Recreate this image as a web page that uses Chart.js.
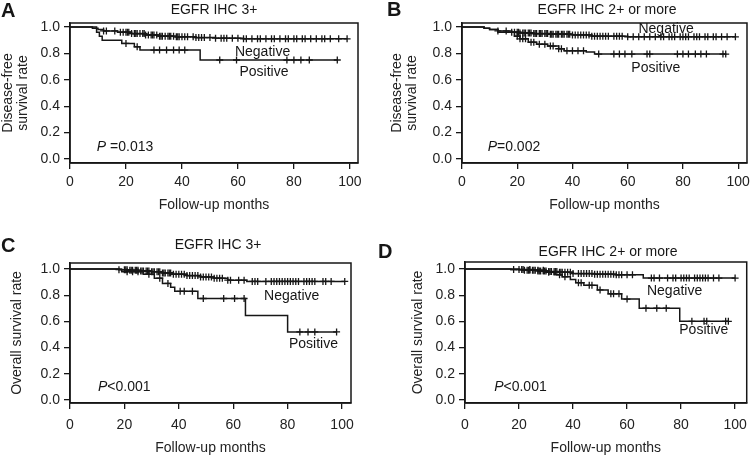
<!DOCTYPE html>
<html>
<head>
<meta charset="utf-8">
<title>EGFR IHC survival curves</title>
<script src="https://cdn.jsdelivr.net/npm/chart.js@4.4.0/dist/chart.umd.min.js"></script>
<style>
  html, body { margin: 0; padding: 0; background: #fff; }
  #wrap { position: relative; width: 755px; height: 460px; overflow: hidden; background: #fff; }
  #wrap canvas { position: absolute; }
</style>
</head>
<body>
<div id="wrap">
  <canvas id="panel-a" width="377" height="230" style="left:0;top:0"></canvas>
  <canvas id="panel-b" width="378" height="230" style="left:377px;top:0"></canvas>
  <canvas id="panel-c" width="377" height="230" style="left:0;top:230px"></canvas>
  <canvas id="panel-d" width="378" height="230" style="left:377px;top:230px"></canvas>
</div>
<script>
// axis ticks
const xTicks = [0, 20, 40, 60, 80, 100];
const yTicks = [0, 0.2, 0.4, 0.6, 0.8, 1.0];
const yTickLabels = ['0.0', '0.2', '0.4', '0.6', '0.8', '1.0'];

// A: disease-free survival, EGFR IHC 3+
const aNegTimes = [0, 8, 10, 12, 17, 22, 27, 32, 38, 45, 52, 62];
const aNegSurv = [1, 0.99, 0.98, 0.97, 0.96, 0.95, 0.94, 0.93, 0.925, 0.92, 0.915, 0.91];
const aNegCensor = [12, 13, 16, 18, 19, 20, 20.5, 21, 22, 23, 23.5, 24, 25, 26, 26.5, 27, 28, 29, 29.5, 30, 31, 32, 32.5, 33, 34, 35, 35.5, 36, 37, 38, 38.5, 39, 40, 41, 42, 44, 45, 46, 47, 48, 50, 52, 54, 55, 56, 58, 60, 62, 63, 65, 67, 68, 70, 72, 73, 75, 77, 78, 80, 81, 83, 84, 86, 88, 90, 91, 93, 96, 99];
const aPosTimes = [0, 9.5, 10.5, 11.5, 18.5, 23, 25, 46.5];
const aPosSurv = [1, 0.96, 0.93, 0.90, 0.875, 0.85, 0.825, 0.75];
const aPosCensor = [20, 24, 30, 32, 34.5, 37, 39, 41, 53.5, 59.5, 77.5, 80, 82.5, 85.5, 95.5];

// B: disease-free survival, EGFR IHC 2+ or more
const bNegTimes = [0, 8, 10, 13, 18, 21, 26, 32, 40, 47, 60];
const bNegSurv = [1, 0.99, 0.98, 0.97, 0.96, 0.955, 0.95, 0.945, 0.94, 0.93, 0.925];
const bNegCensor = [13, 16, 18, 19, 20, 20.5, 21, 22, 22.5, 23, 24, 24.5, 25, 26, 26.5, 27, 28, 28.5, 29, 30, 30.5, 31, 32, 32.5, 33, 34, 34.5, 35, 36, 36.5, 37, 38, 38.5, 39, 40, 41, 42, 43, 44, 45, 46, 47, 48, 49, 50, 51, 52, 53, 55, 56, 57, 58, 60, 62, 64, 66, 68, 70, 72, 73, 75, 76, 77, 79, 80, 81, 82, 84, 85, 86, 88, 89, 91, 92, 94, 96, 99];
const bPosTimes = [0, 8, 10, 13, 19, 21, 24, 27, 31, 35, 37, 45, 48];
const bPosSurv = [1, 0.99, 0.98, 0.96, 0.93, 0.91, 0.885, 0.87, 0.855, 0.835, 0.82, 0.81, 0.795];
const bPosCensor = [20, 21, 22, 23, 25, 26, 28, 30, 32, 33, 35, 36, 38, 40, 42, 44, 49.5, 55, 57, 59, 61.5, 67, 68, 78, 80, 82, 84.5, 86.5, 88.5, 94.5, 95.5];

// C: overall survival, EGFR IHC 3+
const cNegTimes = [0, 18, 22, 26, 30, 34, 38, 43, 48, 53, 58, 65];
const cNegSurv = [1, 0.995, 0.99, 0.985, 0.98, 0.97, 0.96, 0.95, 0.94, 0.93, 0.915, 0.905];
const cNegCensor = [18, 20, 20.5, 21, 22, 22.5, 23, 24, 24.5, 25, 26, 26.5, 27, 28, 28.5, 29, 30, 30.5, 31, 32, 32.5, 33, 34, 34.5, 35, 36, 36.5, 37, 38, 39, 40, 41, 42, 43, 44, 45, 46, 47, 48, 49, 50, 51, 52, 53, 54, 55, 56, 58, 59, 62, 64, 67, 68, 69, 72, 74, 75, 76, 77, 78, 79, 80, 81, 82, 83, 84, 86, 87, 88, 89, 90, 93, 94, 96, 101];
const cPosTimes = [0, 19, 27, 31, 34, 37, 38.5, 47, 64.5, 80];
const cPosSurv = [1, 0.98, 0.96, 0.93, 0.89, 0.86, 0.83, 0.775, 0.645, 0.52];
const cPosCensor = [21, 23, 25, 29, 33, 36, 40.5, 42, 45, 49, 56.5, 60.5, 64, 84.5, 87.5, 90, 98];

// D: overall survival, EGFR IHC 2+ or more
const dNegTimes = [0, 17, 22, 27, 31, 35, 40, 48, 56, 66];
const dNegSurv = [1, 0.995, 0.99, 0.985, 0.98, 0.975, 0.965, 0.96, 0.955, 0.93];
const dNegCensor = [18, 20, 21, 21.5, 22, 23, 23.5, 24, 25, 25.5, 26, 27, 27.5, 28, 29, 29.5, 30, 31, 31.5, 32, 33, 33.5, 34, 35, 35.5, 36, 37, 38, 39, 40, 42, 43, 44, 45, 46, 47, 48, 49, 50, 51, 52, 53, 54, 55, 56, 57, 58, 60, 62, 69, 70, 72, 75, 77, 78, 80, 81, 82, 83, 85, 86, 87, 88, 89, 90, 92, 94, 100];
const dPosTimes = [0, 20, 25, 30, 33, 36, 39, 41, 44, 49, 53, 58, 64.5, 79.5];
const dPosSurv = [1, 0.995, 0.99, 0.975, 0.955, 0.94, 0.92, 0.895, 0.875, 0.84, 0.81, 0.77, 0.70, 0.60];
const dPosCensor = [24, 27, 29, 31, 35, 37, 42, 43, 46, 47, 50, 54, 55, 57, 60, 67, 71, 74.5, 84, 88.5, 89.5, 96.5, 97.5];

const FONT = "'Liberation Sans', Arial, Helvetica, sans-serif";
const INK = '#161616';

// step value of the curve at time t
function survAt(times, surv, t) {
  let s = surv[0];
  for (let i = 0; i < times.length; i++) {
    if (times[i] <= t) s = surv[i];
  }
  return s;
}

function stepPoints(times, surv, censor) {
  const pts = times.map((t, i) => ({ x: t, y: surv[i] }));
  pts.push({ x: Math.max(...censor), y: surv[surv.length - 1] });
  return pts;
}

function censorPoints(times, surv, censor) {
  return censor.map(t => ({ x: t, y: survAt(times, surv, t) }));
}

// box around the plot region
const boxPlugin = {
  id: 'box',
  afterDraw(chart) {
    const { ctx, chartArea: a } = chart;
    ctx.save();
    ctx.strokeStyle = INK;
    ctx.lineWidth = 1.5;
    ctx.strokeRect(a.left, a.top, a.right - a.left, a.bottom - a.top);
    ctx.restore();
  }
};

// panel letter, title, curve labels and P value
const notesPlugin = {
  id: 'notes',
  afterDraw(chart) {
    const n = chart.options.plugins.notes;
    if (!n) return;
    const { ctx } = chart;
    const xs = chart.scales.x, ys = chart.scales.y;
    ctx.save();
    ctx.fillStyle = INK;

    ctx.font = 'bold 20px ' + FONT;
    ctx.textAlign = 'left';
    ctx.textBaseline = 'alphabetic';
    ctx.fillText(n.letter, n.letterPos[0], n.letterPos[1]);

    ctx.font = '14px ' + FONT;
    ctx.textAlign = 'center';
    ctx.textBaseline = 'middle';
    ctx.fillText(n.title, n.titlePos[0], n.titlePos[1]);

    ctx.fillText('Negative', xs.getPixelForValue(n.negLabel[0]), ys.getPixelForValue(n.negLabel[1]));
    ctx.fillText('Positive', xs.getPixelForValue(n.posLabel[0]), ys.getPixelForValue(n.posLabel[1]));

    const px = xs.getPixelForValue(n.pPos[0]);
    const py = ys.getPixelForValue(n.pPos[1]);
    ctx.textAlign = 'left';
    ctx.font = 'italic 14px ' + FONT;
    ctx.fillText('P', px, py);
    const w = ctx.measureText('P').width;
    ctx.font = '14px ' + FONT;
    ctx.fillText(n.pText, px + w, py);
    ctx.restore();
  }
};

const panels = [
  {
    id: 'panel-a', w: 377, h: 230,
    area: { left: 70, right: 358, top: 23, bottom: 163 },
    xMax: 102.9, yMin: -0.03, yMax: 1.03,
    yTitle: ['Disease-free', 'survival rate'], yTitlePad: 0, xTickPad: 5, xTitlePad: 17,
    neg: [aNegTimes, aNegSurv, aNegCensor], pos: [aPosTimes, aPosSurv, aPosCensor],
    notes: { letter: 'A', letterPos: [1, 17], title: 'EGFR IHC 3+', titlePos: [214, 10],
      negLabel: [68.8, 0.81], posLabel: [69.3, 0.66], pText: ' =0.013', pPos: [9.6, 0.09] }
  },
  {
    id: 'panel-b', w: 378, h: 230,
    area: { left: 85, right: 373, top: 23, bottom: 163 },
    xMax: 103.2, yMin: -0.03, yMax: 1.03,
    yTitle: ['Disease-free', 'survival rate'], yTitlePad: 12, xTickPad: 5, xTitlePad: 17,
    neg: [bNegTimes, bNegSurv, bNegCensor], pos: [bPosTimes, bPosSurv, bPosCensor],
    notes: { letter: 'B', letterPos: [10, 16], title: 'EGFR IHC 2+ or more', titlePos: [230, 10],
      negLabel: [73.9, 0.98], posLabel: [70.2, 0.69], pText: '=0.002', pPos: [9.3, 0.093] }
  },
  {
    id: 'panel-c', w: 377, h: 230,
    area: { left: 70, right: 351, top: 33, bottom: 173 },
    xMax: 103.3, yMin: -0.023, yMax: 1.046,
    yTitle: 'Overall survival rate', yTitlePad: 9, xTickPad: 8, xTitlePad: 4,
    neg: [cNegTimes, cNegSurv, cNegCensor], pos: [cPosTimes, cPosSurv, cPosCensor],
    notes: { letter: 'C', letterPos: [1, 22], title: 'EGFR IHC 3+', titlePos: [218, 15],
      negLabel: [81.5, 0.79], posLabel: [89.5, 0.43], pText: '<0.001', pPos: [10.3, 0.10] }
  },
  {
    id: 'panel-d', w: 378, h: 230,
    area: { left: 88, right: 377, top: 32, bottom: 173 },
    xMax: 104.3, yMin: -0.023, yMax: 1.053,
    yTitle: 'Overall survival rate', yTitlePad: 33, xTickPad: 8, xTitlePad: 4,
    neg: [dNegTimes, dNegSurv, dNegCensor], pos: [dPosTimes, dPosSurv, dPosCensor],
    notes: { letter: 'D', letterPos: [1, 28], title: 'EGFR IHC 2+ or more', titlePos: [231, 22],
      negLabel: [77.6, 0.827], posLabel: [88.4, 0.535], pText: '<0.001', pPos: [10.8, 0.10] }
  }
];

function curveDatasets(times, surv, censor) {
  return [
    {
      data: stepPoints(times, surv, censor),
      showLine: true,
      stepped: 'before',
      borderColor: INK,
      borderWidth: 1.5,
      pointRadius: 0,
      fill: false
    },
    {
      data: censorPoints(times, surv, censor),
      showLine: false,
      pointStyle: 'cross',
      pointRadius: 3.5,
      pointBorderColor: INK,
      pointBorderWidth: 1.3
    }
  ];
}

function makePanel(p) {
  const font = { family: FONT, size: 14, lineHeight: 1.1 };
  const a = p.area;
  new Chart(document.getElementById(p.id), {
    type: 'scatter',
    data: {
      datasets: [...curveDatasets(...p.neg), ...curveDatasets(...p.pos)]
    },
    options: {
      responsive: false,
      animation: false,
      events: [],
      devicePixelRatio: 1,
      layout: { padding: { left: 0, top: a.top, right: p.w - a.right, bottom: 0 } },
      plugins: {
        legend: { display: false },
        tooltip: { enabled: false },
        notes: p.notes
      },
      scales: {
        x: {
          type: 'linear',
          min: 0,
          max: p.xMax,
          afterBuildTicks: s => { s.ticks = xTicks.map(v => ({ value: v })); },
          afterFit: s => { s.height = p.h - a.bottom; },
          grid: { drawOnChartArea: false, drawTicks: true, tickLength: 6, color: INK, lineWidth: 1.3 },
          border: { display: true, color: INK, width: 1.5 },
          ticks: { color: '#222', font, padding: p.xTickPad, maxRotation: 0, autoSkip: false, callback: v => String(v) },
          title: { display: true, text: 'Follow-up months', color: '#222', font, padding: { top: 0, bottom: p.xTitlePad } }
        },
        y: {
          type: 'linear',
          min: p.yMin,
          max: p.yMax,
          afterBuildTicks: s => { s.ticks = yTicks.map(v => ({ value: v })); },
          afterFit: s => { s.width = a.left; },
          grid: { drawOnChartArea: false, drawTicks: true, tickLength: 6, color: INK, lineWidth: 1.3 },
          border: { display: true, color: INK, width: 1.5 },
          ticks: { color: '#222', font, padding: 4, autoSkip: false, callback: (v, i) => yTickLabels[i] },
          title: { display: true, text: p.yTitle, color: '#222', font, padding: { top: p.yTitlePad, bottom: 0 } }
        }
      }
    },
    plugins: [boxPlugin, notesPlugin]
  });
}

panels.forEach(makePanel);
</script>
</body>
</html>
